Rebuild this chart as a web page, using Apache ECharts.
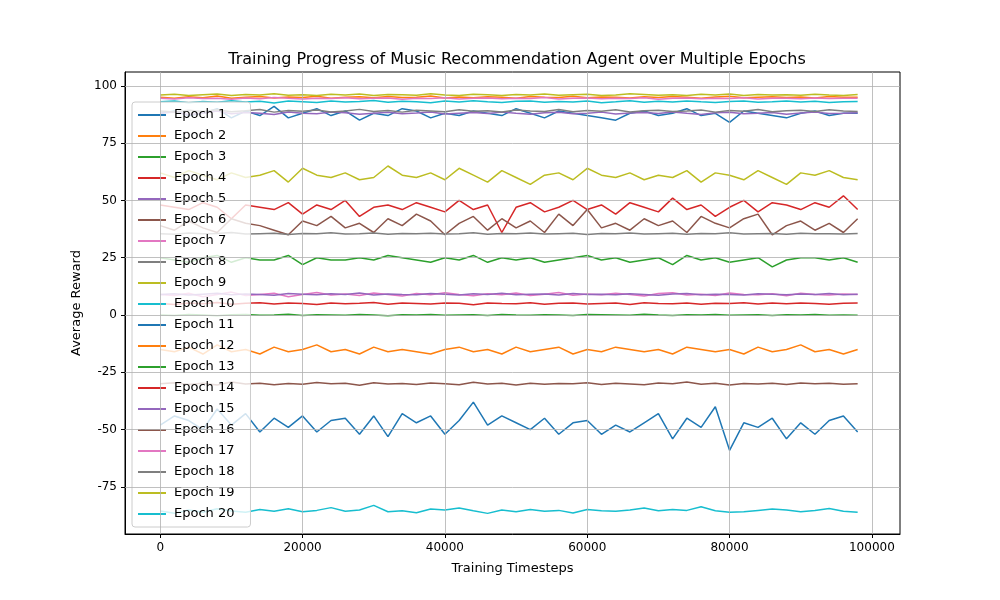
<!DOCTYPE html>
<html>
<head>
<meta charset="utf-8">
<script src="https://cdn.jsdelivr.net/npm/echarts@6/dist/echarts.min.js"></script>
<style>html,body{margin:0;padding:0;background:#fff}#main{width:1000px;height:600px}</style>
</head>
<body>
<div id="main"></div>
<script>
// timesteps 0..98000 every 2000
let steps = [];
for (let i = 0; i < 50; i++) steps.push(i * 2000);

let e1 = [88,89,87,88,90,86,89,87,91,86,88,90,87,89,85,88,87,90,89,86,88,87,89,88,87,90,88,86,89,88,87,86,85,88,89,87,88,90,87,88,84,89,88,87,86,88,89,87,88,88];
let e2 = [95,94.5,95.2,94.8,95.5,94.6,95,95.3,94.7,95.1,94.9,95.4,94.6,95,95.2,94.8,95.3,94.9,95,95.5,94.7,95.1,94.8,95.2,95,94.6,95.3,95,94.9,95.4,94.8,95.1,95,94.7,95.2,94.9,95.3,95,94.6,95.1,95.4,94.8,95,95.2,94.9,95.1,94.7,95.3,95,95];
let e3 = [25,24,23,25,26,23,25,24,24,26,22,25,24,24,25,24,26,25,24,23,25,24,26,23,25,24,25,23,24,25,26,24,25,23,24,25,22,26,24,25,23,24,25,21,24,25,25,24,25,23];
let e4 = [48,47,46,49,47,42,48,47,46,49,44,48,46,50,43,47,48,46,49,47,45,50,46,48,36,47,49,45,47,50,46,48,44,49,47,45,51,46,48,43,47,50,45,49,48,46,49,47,52,46];
let e5 = [88,88.5,87.5,88,89,87.8,88.3,88,87.5,88.6,88,87.8,88.5,88.2,87.6,88,88.4,87.8,88.1,88.6,87.7,88,88.3,87.9,88.5,88,87.6,88.2,88.4,87.8,88,88.5,87.7,88.1,88.3,87.9,88.6,88,87.5,88.2,88.4,87.8,88,88.3,87.6,88.1,88.5,87.9,88,88.2];
let e6 = [39,37,41,38,36,42,40,39,37,35,41,39,43,38,40,36,42,39,44,41,35,40,43,37,42,38,41,36,44,39,46,38,40,37,42,39,41,36,43,40,38,42,44,35,39,41,37,40,36,42];
let e7 = [9,8.5,9.5,8,9,10,8.5,9,9.5,8,9,9.8,8.7,9.2,8.5,9.6,9,8.3,9.4,8.8,9.7,9,8.4,9.3,8.9,9.6,8.5,9.1,9.8,8.6,9.2,8.8,9.5,9,8.3,9.4,9.7,8.7,9.1,8.5,9.6,9,8.8,9.3,8.4,9.5,9,8.7,9.2,9];
let e8 = [35.5,35.2,35.8,35.4,35.6,36,35.3,35.5,35.7,35.1,35.6,35.4,35.9,35.3,35.5,35.8,35.2,35.6,35.4,35.7,35.3,35.5,35.9,35.2,35.6,35.4,35.8,35.3,35.5,35.7,35.1,35.6,35.4,35.8,35.3,35.5,35.7,35.2,35.6,35.4,35.9,35.3,35.5,35.6,35.2,35.7,35.4,35.5,35.3,35.6];
let e9 = [62,60,63,61,59,62,60,61,63,58,64,61,60,62,59,60,65,61,60,62,59,64,61,58,63,60,57,61,62,59,64,61,60,62,59,61,60,63,58,62,61,59,63,60,57,62,61,63,60,59];
let e10 = [93,93.4,92.6,93.1,92.8,93.5,92.9,93.2,92.5,93.3,93,92.7,93.4,92.9,93.1,93.6,92.8,93.2,93,92.6,93.3,92.9,93.5,93,92.7,93.2,93.4,92.8,93.1,92.9,93.3,92.6,93,93.5,92.8,93.2,92.9,93.4,93,92.7,93.1,93.3,92.8,93,93.4,92.9,93.2,92.7,93,93.1];
let e11 = [-48,-44,-46,-50,-41,-48,-43,-51,-45,-49,-44,-51,-46,-45,-52,-44,-53,-43,-47,-44,-52,-46,-38,-48,-44,-47,-50,-45,-52,-47,-46,-52,-48,-51,-47,-43,-54,-45,-49,-40,-59,-47,-49,-45,-54,-47,-52,-46,-44,-51];
let e12 = [-15,-16,-14,-17,-13,-16,-15,-17,-14,-16,-15,-13,-16,-15,-17,-14,-16,-15,-16,-17,-15,-14,-16,-15,-17,-14,-16,-15,-14,-17,-15,-16,-14,-15,-16,-15,-17,-14,-15,-16,-15,-17,-14,-16,-15,-13,-16,-15,-17,-15];
let e13 = [0,-0.2,0.2,0,-0.3,0.1,0.2,-0.1,0,0.3,-0.2,0.1,0,-0.1,0.2,0,-0.3,0.1,0,0.2,-0.1,0,0.1,-0.2,0.2,0,-0.1,0.1,0,-0.2,0.2,0.1,0,-0.1,0.3,0,-0.2,0.1,0,0.2,-0.1,0,0.1,-0.2,0.1,0,0.2,-0.1,0,-0.1];
let e14 = [5,4.6,5.3,4.9,5.5,4.7,5.1,5.4,4.8,5.2,5,4.6,5.3,4.9,5.1,5.5,4.7,5.2,5,4.8,5.3,5.1,4.5,5.2,5,4.9,5.4,4.7,5.1,5.3,4.8,5,5.2,4.6,5.4,5,4.9,5.3,4.7,5.1,5,5.4,4.8,5.2,4.9,5.3,5,4.7,5.1,5.2];
let e15 = [9,9.3,8.7,9.1,9.5,8.8,9.2,9,8.6,9.4,9.1,8.8,9.3,9,9.6,8.7,9.2,9,8.9,9.4,9.1,8.7,9.3,9,9.5,8.8,9.1,9.2,8.7,9.4,9,9.1,8.8,9.3,9,8.6,9.2,9.4,8.9,9.1,9,8.7,9.3,9.1,8.8,9.2,9,9.4,8.9,9.1];
let e16 = [-30,-29.5,-30.3,-29.8,-30.5,-29.2,-30.1,-29.7,-30.4,-29.9,-30.2,-29.4,-30,-29.8,-30.6,-29.5,-30.1,-29.9,-30.3,-29.6,-30,-30.4,-29.3,-30.1,-29.8,-30.5,-29.7,-30.2,-29.9,-30,-29.5,-30.3,-29.8,-30.1,-30.4,-29.6,-30,-29.2,-30.2,-29.8,-30.5,-29.9,-30.1,-29.7,-30.3,-29.6,-30,-29.8,-30.2,-30];
let e17 = [94.5,94.2,94.8,94.4,94.6,94.1,94.7,94.3,94.9,94.5,94.2,94.6,94.4,94.8,94.3,94.5,94.7,94.1,94.6,94.4,94.8,94.2,94.5,94.7,94.3,94.6,94.4,94.9,94.2,94.5,94.7,94.3,94.6,94.4,94.8,94.1,94.5,94.7,94.3,94.6,94.4,94.8,94.2,94.5,94.6,94.3,94.7,94.4,94.5,94.6];
let e18 = [89,88.6,89.3,88.8,89.5,88.7,89.1,89.6,88.5,89.2,88.9,89.4,88.6,89,89.7,88.8,89.2,88.5,89.3,89,88.7,89.5,88.9,89.1,88.6,89.4,89,88.8,89.6,88.7,89.2,88.9,89.5,88.6,89.1,89.3,88.8,89,89.4,88.5,89.2,88.9,89.6,88.7,89.1,89.3,88.8,89.5,89,88.8];
let e19 = [96,96.3,95.7,96.1,96.4,95.8,96.2,96,96.5,95.9,96.1,95.7,96.3,96,96.4,95.8,96.2,96.1,95.9,96.5,96,95.8,96.3,96.1,95.7,96.2,96,96.4,95.9,96.1,96.3,95.8,96,96.5,96.2,95.9,96.1,95.7,96.3,96,96.4,95.8,96.2,96,96.1,95.9,96.3,96,95.8,96.2];
let e20 = [-85.5,-86.5,-85,-86,-84.5,-85.5,-86,-84.8,-85.6,-84.5,-85.8,-85.2,-84,-85.6,-85,-83,-85.8,-85.4,-86.2,-84.6,-85,-84.2,-85.4,-86.5,-85,-85.8,-84.8,-85.6,-85.2,-86.3,-84.8,-85.4,-85.6,-85,-84.2,-85.4,-84.8,-85.2,-83.6,-85.4,-86,-85.8,-85.2,-84.6,-85,-85.8,-85.2,-84.4,-85.6,-86];

let epochs = [e1,e2,e3,e4,e5,e6,e7,e8,e9,e10,e11,e12,e13,e14,e15,e16,e17,e18,e19,e20];
let xTicks = [0, 20000, 40000, 60000, 80000, 100000];
let yTicks = [-75, -50, -25, 0, 25, 50, 75, 100];

let colors = ['#1f77b4','#ff7f0e','#2ca02c','#d62728','#9467bd','#8c564b','#e377c2','#7f7f7f','#bcbd22','#17becf'];
let font = 'DejaVu Sans';

let series = epochs.map((arr, i)=>({
    name: 'Epoch ' + (i + 1),
    type: 'line',
    showSymbol: false,
    symbol: 'none',
    data: arr.map((v, j)=>[steps[j], v]),
    lineStyle: {width: 1.5, color: colors[i % 10]},
    itemStyle: {color: colors[i % 10]},
    z: 3
}));

// grid lines
let gridStyle = {color: '#b0b0b0', width: 0.8, type: 'solid'};
series.unshift({
    type: 'line',
    data: [],
    silent: true,
    z: 1,
    markLine: {
        silent: true,
        symbol: 'none',
        label: {show: false},
        lineStyle: gridStyle,
        animation: false,
        data: xTicks.filter(v=>v < 103950).map(v=>({xAxis: v})).concat(yTicks.map(v=>({yAxis: v})))
    }
});

let myChart = echarts.init(document.getElementById('main'));
myChart.setOption({
    animation: false,
    title: {
        text: 'Training Progress of Music Recommendation Agent over Multiple Epochs',
        left: 512, top: 47, textAlign: 'center',
        textStyle: {fontFamily: font, fontSize: 16, fontWeight: 'normal', color: '#000'}
    },
    legend: {
        orient: 'vertical',
        left: 132, top: 102,
        data: epochs.map((a, i)=>'Epoch ' + (i + 1)),
        icon: 'rect',
        itemWidth: 28, itemHeight: 2,
        itemGap: 7,
        padding: [6, 16, 6, 6],
        backgroundColor: 'rgba(255,255,255,0.8)',
        borderColor: '#cccccc', borderWidth: 1, borderRadius: 3,
        textStyle: {fontFamily: font, fontSize: 13, color: '#000', lineHeight: 14, padding: [0, 0, 0, 3]}
    },
    grid: {left: 125, right: 100, top: 72, bottom: 66},
    xAxis: {
        type: 'value', min: -4950, max: 103950,
        name: 'Training Timesteps', nameLocation: 'middle', nameGap: 28,
        nameTextStyle: {fontFamily: font, fontSize: 13, color: '#000'},
        splitLine: {show: false},
        axisLine: {onZero: false, lineStyle: {color: '#000'}},
        axisTick: {customValues: xTicks, length: 4, lineStyle: {color: '#000'}},
        axisLabel: {customValues: xTicks, formatter: v=>String(v), fontFamily: font, fontSize: 12, color: '#000', showMinLabel: true, showMaxLabel: true}
    },
    yAxis: {
        type: 'value', min: -95.5, max: 106,
        name: 'Average Reward', nameLocation: 'middle', nameGap: 42,
        nameTextStyle: {fontFamily: font, fontSize: 13, color: '#000'},
        splitLine: {show: false},
        axisLine: {show: true, onZero: false, lineStyle: {color: '#000'}},
        axisTick: {show: true, customValues: yTicks, length: 4, lineStyle: {color: '#000'}},
        axisLabel: {customValues: yTicks, fontFamily: font, fontSize: 12, color: '#000'}
    },
    series: series
});
// frame top/right
myChart.setOption({
    graphic: [{
        type: 'rect', silent: true, z: 0,
        shape: {x: 125, y: 72, width: 775, height: 462},
        style: {fill: 'none', stroke: '#000', lineWidth: 1}
    }]
});
</script>
</body>
</html>
